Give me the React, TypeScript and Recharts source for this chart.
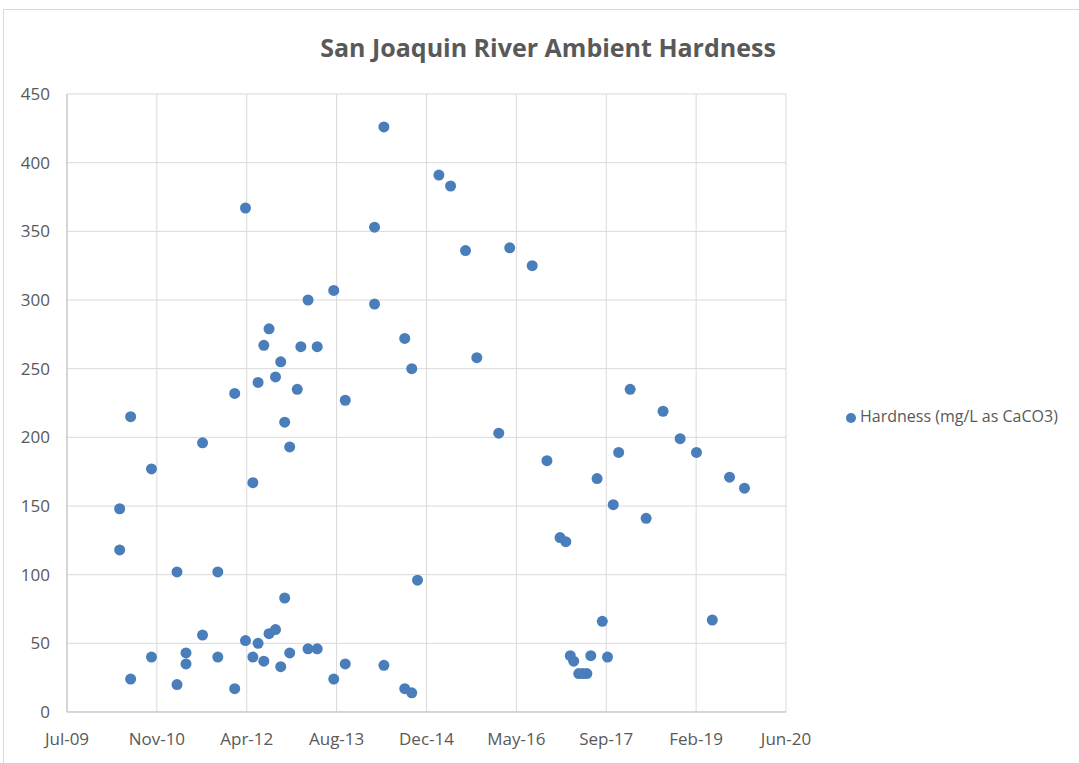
import React from 'react';
import { ScatterChart, Scatter, XAxis, YAxis, CartesianGrid, Legend } from 'recharts';

const sampleDates = [
  '2010-04-25', '2010-04-25', '2010-06-25', '2010-06-25', '2010-10-19', '2010-10-19',
  '2011-03-10', '2011-03-10', '2011-04-29', '2011-04-29', '2011-07-30', '2011-07-30',
  '2011-10-23', '2011-10-23', '2012-01-25', '2012-01-25', '2012-03-25', '2012-03-25',
  '2012-05-05', '2012-05-05', '2012-06-03', '2012-06-03', '2012-07-05', '2012-07-05',
  '2012-08-03', '2012-08-03', '2012-09-08', '2012-09-08', '2012-10-07', '2012-10-07',
  '2012-10-29', '2012-10-29', '2012-11-26', '2012-11-26', '2013-01-07', '2013-01-27',
  '2013-03-08', '2013-03-08', '2013-04-28', '2013-04-28', '2013-07-29', '2013-07-29',
  '2013-10-01', '2013-10-01', '2014-03-13', '2014-03-13', '2014-05-04', '2014-05-04',
  '2014-08-28', '2014-08-28', '2014-10-06', '2014-10-06', '2014-11-07', '2015-03-06',
  '2015-05-10', '2015-08-01', '2015-10-03', '2016-02-02', '2016-04-03', '2016-08-06',
  '2016-10-27', '2017-01-08', '2017-02-09', '2017-03-06', '2017-03-25', '2017-04-22',
  '2017-05-14', '2017-06-06', '2017-06-28', '2017-08-02', '2017-08-31', '2017-09-29',
  '2017-10-31', '2017-11-30', '2018-02-02', '2018-05-02', '2018-08-04', '2018-11-07',
  '2019-02-06', '2019-05-05', '2019-08-09', '2019-10-31',
];

const hardness = [
  148, 118, 215, 24, 177, 40,
  102, 20, 43, 35, 196, 56,
  102, 40, 232, 17, 367, 52,
  167, 40, 240, 50, 267, 37,
  279, 57, 244, 60, 255, 33,
  211, 83, 193, 43, 235, 266,
  300, 46, 266, 46, 307, 24,
  227, 35, 353, 297, 426, 34,
  272, 17, 250, 14, 96, 391,
  383, 336, 258, 203, 338, 325,
  183, 127, 124, 41, 37, 28,
  28, 28, 41, 170, 66, 40,
  151, 189, 235, 141, 219, 199,
  189, 67, 171, 163,
];

// x ticks: Jul-09 ... Jun-20, every 500 days (Excel serials 40000..44000)
const xTickSerials = [40000, 40500, 41000, 41500, 42000, 42500, 43000, 43500, 44000];
const yTicks = [0, 50, 100, 150, 200, 250, 300, 350, 400, 450];

const MONTHS = ['Jan', 'Feb', 'Mar', 'Apr', 'May', 'Jun', 'Jul', 'Aug', 'Sep', 'Oct', 'Nov', 'Dec'];
const serialToMs = (s: number) => (s - 25569) * 86400000;
const xTicks = xTickSerials.map(serialToMs);

const fmtDate = (ms: number) => {
  const d = new Date(ms);
  return `${MONTHS[d.getUTCMonth()]}-${String(d.getUTCFullYear()).slice(2)}`;
};

const data = sampleDates.map((d, i) => ({ date: Date.parse(d), value: hardness[i] }));

const BLUE = '#4a7ebb';
const TEXT = '#595959';
const FONT = '"Open Sans", sans-serif';

export default function App() {
  return (
    <div
      style={{
        position: 'absolute',
        left: 3,
        top: 9,
        width: 1076,
        height: 754,
        borderTop: '1px solid #d9d9d9',
        borderLeft: '1px solid #d9d9d9',
        background: '#fff',
        fontFamily: FONT,
      }}
    >
      <div
        style={{
          position: 'absolute',
          top: 20,
          left: 0,
          width: 1088,
          textAlign: 'center',
          fontSize: 25,
          fontWeight: 700,
          color: TEXT,
        }}
      >
        San Joaquin River Ambient Hardness
      </div>
      <ScatterChart width={1075} height={753} margin={{ top: 84, right: 293, bottom: 21, left: 3 }}>
        <CartesianGrid stroke="#d9d9d9" />
        <XAxis
          type="number"
          dataKey="date"
          domain={[xTicks[0], xTicks[xTicks.length - 1]]}
          ticks={xTicks}
          tickFormatter={fmtDate}
          interval={0}
          tickLine={false}
          tickMargin={15}
          height={30}
          stroke="#bfbfbf"
          tick={{ fill: TEXT, fontSize: 17, fontFamily: FONT }}
        />
        <YAxis
          type="number"
          dataKey="value"
          domain={[0, 450]}
          ticks={yTicks}
          interval={0}
          tickLine={false}
          tickMargin={11}
          width={60}
          stroke="#bfbfbf"
          tick={{ fill: TEXT, fontSize: 17, fontFamily: FONT }}
        />
        <Legend
          layout="vertical"
          verticalAlign="middle"
          align="center"
          iconType="circle"
          iconSize={10}
          wrapperStyle={{
            left: 842,
            top: 395,
            width: 240,
            whiteSpace: 'nowrap',
            fontSize: 16,
            fontFamily: FONT,
          }}
          formatter={(v) => <span style={{ color: TEXT }}>{v}</span>}
        />
        <Scatter
          name="Hardness (mg/L as CaCO3)"
          data={data}
          fill={BLUE}
          isAnimationActive={false}
          shape={(p: any) => <circle cx={p.cx} cy={p.cy} r={5.5} fill={BLUE} />}
        />
      </ScatterChart>
    </div>
  );
}
